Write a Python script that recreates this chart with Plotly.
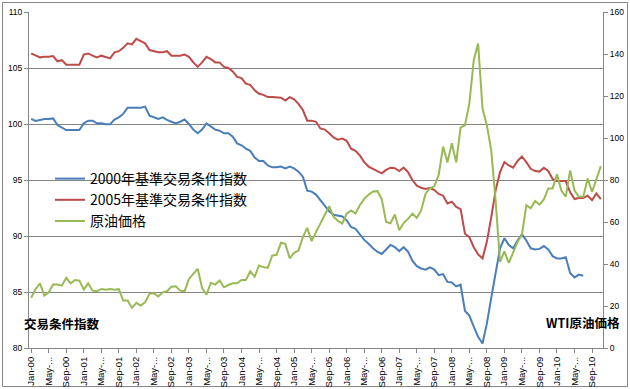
import plotly.graph_objects as go

MONTH_NAMES = ["Jan", "Feb", "Mar", "Apr", "May", "Jun", "Jul", "Aug", "Sep", "Oct", "Nov", "Dec"]
YEARS = ["00", "01", "02", "03", "04", "05", "06", "07", "08", "09", "10"]
months = [f"{m}-{y}" for y in YEARS for m in MONTH_NAMES][:131]  # Jan-00 .. Nov-10

tick_vals = months[::4]
tick_text = [m if not m.startswith("May") else "May-..." for m in tick_vals]

tot_2000 = [
    100.45, 100.27, 100.36, 100.45, 100.45, 100.5, 99.9, 99.7, 99.46, 99.46, 99.46, 99.46,
    100.06, 100.3, 100.3, 100.06, 100.06, 99.97, 99.97, 100.4, 100.6, 100.9, 101.46, 101.46,
    101.46, 101.46, 101.55, 100.74, 100.6, 100.45, 100.6, 100.36, 100.2, 100.06, 100.2, 100.4,
    100.0, 99.5, 99.17, 99.5, 100.06, 99.76, 99.5, 99.4, 99.17, 99.17, 98.87, 98.27,
    98.1, 97.8, 97.6, 97.0, 96.7, 96.7, 96.3, 96.13, 96.13, 96.2, 96.04, 96.2,
    96.04, 95.74, 95.3, 94.05, 93.96, 93.7, 93.2, 92.7, 92.2, 91.9, 91.8, 91.75,
    91.4, 90.8, 90.65, 90.1, 89.65, 89.3, 88.9, 88.6, 88.4, 88.8, 89.2, 89.0,
    88.65, 89.0, 88.6, 87.8, 87.3, 87.1, 87.0, 87.2, 87.0, 86.5, 86.6, 85.9,
    85.85, 85.5, 85.65, 83.3, 82.9, 81.9, 81.0, 80.4, 82.2, 84.5, 86.8, 88.9,
    89.8, 89.2, 88.9, 89.6, 90.15, 89.6, 88.9, 88.8, 88.85, 89.1, 88.8, 88.2,
    88.0, 88.0, 88.1, 86.7, 86.3, 86.55, 86.45,
]

tot_2005 = [
    106.3, 106.16, 105.95, 106.0, 106.0, 106.07, 105.6, 105.7, 105.3, 105.3, 105.3, 105.3,
    106.2, 106.3, 106.1, 105.95, 106.1, 105.95, 105.86, 106.4, 106.5, 106.8, 107.2, 107.1,
    107.6, 107.4, 107.2, 106.6, 106.5, 106.4, 106.4, 106.5, 106.1, 106.1, 106.1, 106.2,
    106.0, 105.5, 105.1, 105.5, 106.0, 105.8, 105.5, 105.5, 105.1, 105.0, 104.7, 104.2,
    104.1, 103.6, 103.5, 103.0, 102.7, 102.6, 102.4, 102.4, 102.4, 102.35, 102.1, 102.4,
    102.2, 101.8, 101.25, 100.3, 100.3, 100.2, 99.6, 99.5, 99.17, 98.8, 98.6, 98.7,
    98.5, 97.8, 97.6, 97.2, 96.6, 96.2, 96.0, 95.8, 95.6, 95.9, 96.1, 96.05,
    95.8, 96.1, 95.7, 95.0, 94.5, 94.3, 94.2, 94.3, 94.1, 93.75, 93.6, 92.9,
    93.07, 92.6, 92.4, 90.2, 89.9, 89.0, 88.36, 88.0, 89.5, 91.7, 94.1, 95.7,
    96.6, 96.3, 96.1, 96.7, 97.1, 96.6, 96.0, 95.8, 95.75, 96.1, 95.8, 95.1,
    94.9, 94.9, 94.9, 93.9, 93.3, 93.4, 93.4, 93.6, 93.2, 93.8, 93.3,
]

oil_price = [
    23.9, 28.1, 30.8, 24.95, 26.5, 30.2, 30.2, 29.7, 33.4, 30.8, 32.4, 32.1,
    27.8, 30.8, 27.3, 27.0, 28.1, 27.7, 28.1, 27.7, 28.0, 22.6, 22.6, 19.1,
    21.5, 20.2, 21.8, 25.8, 26.05, 24.5, 26.5, 27.0, 29.2, 29.4, 27.3, 27.0,
    32.9, 35.3, 37.7, 28.6, 25.4, 31.0, 30.2, 32.1, 28.9, 30.0, 30.8, 30.8,
    32.4, 32.4, 36.5, 34.0, 39.3, 38.5, 38.2, 44.0, 44.4, 50.1, 49.6, 42.7,
    45.3, 46.4, 52.8, 57.2, 50.9, 55.2, 59.5, 64.0, 67.5, 62.5, 60.5, 59.3,
    64.0, 65.5, 64.0, 68.0, 71.0, 73.0, 74.5, 74.7, 71.0, 60.0, 59.4, 63.6,
    56.1, 59.5, 61.5, 64.0, 62.0, 65.5, 73.5, 76.0, 77.0, 82.4, 95.9, 88.4,
    97.5, 88.4, 105.0, 106.0, 116.5, 137.0, 145.0, 114.0, 106.0, 94.0, 70.0, 41.0,
    46.0, 40.5, 46.0, 50.5, 54.0, 68.0, 66.5, 70.0, 68.3, 70.7, 76.0, 76.0,
    82.7, 75.0, 72.0, 84.6, 75.0, 72.0, 72.0, 80.7, 74.3, 80.0, 86.6,
]

FONT = "Noto Sans CJK JP, Liberation Sans, sans-serif"
TICKFONT = "Liberation Sans, sans-serif"
GRID = "#868686"

fig = go.Figure()
fig.add_trace(go.Scatter(x=months[:len(tot_2000)], y=tot_2000, mode="lines",
                         name="2000年基準交易条件指数",
                         line=dict(color="#4A7EBB", width=2)))
fig.add_trace(go.Scatter(x=months[:len(tot_2005)], y=tot_2005, mode="lines",
                         name="2005年基準交易条件指数",
                         line=dict(color="#BE4B48", width=2)))
fig.add_trace(go.Scatter(x=months[:len(oil_price)], y=oil_price, mode="lines",
                         name="原油価格", yaxis="y2",
                         line=dict(color="#98B954", width=2)))

W, H = 630, 389
L, R, T, B = 29, 27, 12, 41
pw, ph = W - L - R, H - T - B

def px_x(x):
    return (x - L) / pw

def px_y(y):
    return (H - B - y) / ph

fig.update_layout(
    width=W, height=H,
    margin=dict(l=L, r=R, t=T, b=B, autoexpand=False),
    paper_bgcolor="white", plot_bgcolor="white",
    font=dict(family=FONT, size=8, color="#000000"),
    showlegend=True,
    legend=dict(x=px_x(50), y=px_y(163), xanchor="left", yanchor="top",
                bgcolor="rgba(0,0,0,0)", font=dict(size=14, family=FONT),
                itemwidth=30, tracegroupgap=5),
    xaxis=dict(type="category", categoryorder="array", categoryarray=months,
               range=[-0.5, len(months) - 0.5], automargin=False,
               tickmode="array", tickvals=tick_vals, ticktext=tick_text,
               tickangle=-90, tickfont=dict(size=9.5, family=TICKFONT),
               showline=True, linecolor=GRID, linewidth=1,
               ticks="outside", ticklen=4, tickcolor=GRID, showgrid=False),
    yaxis=dict(range=[80, 110], dtick=5, tick0=80, automargin=False,
               showgrid=True, gridcolor=GRID, gridwidth=1,
               showline=True, linecolor=GRID, linewidth=1,
               ticks="outside", ticklen=4, tickcolor=GRID,
               tickfont=dict(size=8.5, family=TICKFONT),
               zeroline=False),
    yaxis2=dict(range=[0, 160], dtick=20, tick0=0, overlaying="y", side="right",
                automargin=False,
                showgrid=False, showline=True, linecolor=GRID, linewidth=1,
                ticks="outside", ticklen=4, tickcolor=GRID,
                tickfont=dict(size=8.5, family=TICKFONT),
                zeroline=False),
    annotations=[
        dict(text="<b>交易条件指数</b>", x=px_x(62), y=px_y(323), xref="paper", yref="paper",
             xanchor="center", yanchor="middle",
             showarrow=False, font=dict(size=12.5, family=FONT, color="#000000")),
        dict(text="<b>WTI原油価格</b>", x=px_x(583), y=px_y(322), xref="paper", yref="paper",
             xanchor="center", yanchor="middle",
             showarrow=False, font=dict(size=12.5, family=FONT, color="#000000")),
    ],
    shapes=[
        dict(type="rect", xref="paper", yref="paper",
             x0=px_x(2.5), x1=px_x(627.5), y0=px_y(386.5), y1=px_y(2.5),
             line=dict(color=GRID, width=1), layer="below"),
    ],
)

fig.write_html("out.html",
               config={"displayModeBar": False},
               post_script="document.body.style.margin='0';document.body.style.overflow='hidden';")
